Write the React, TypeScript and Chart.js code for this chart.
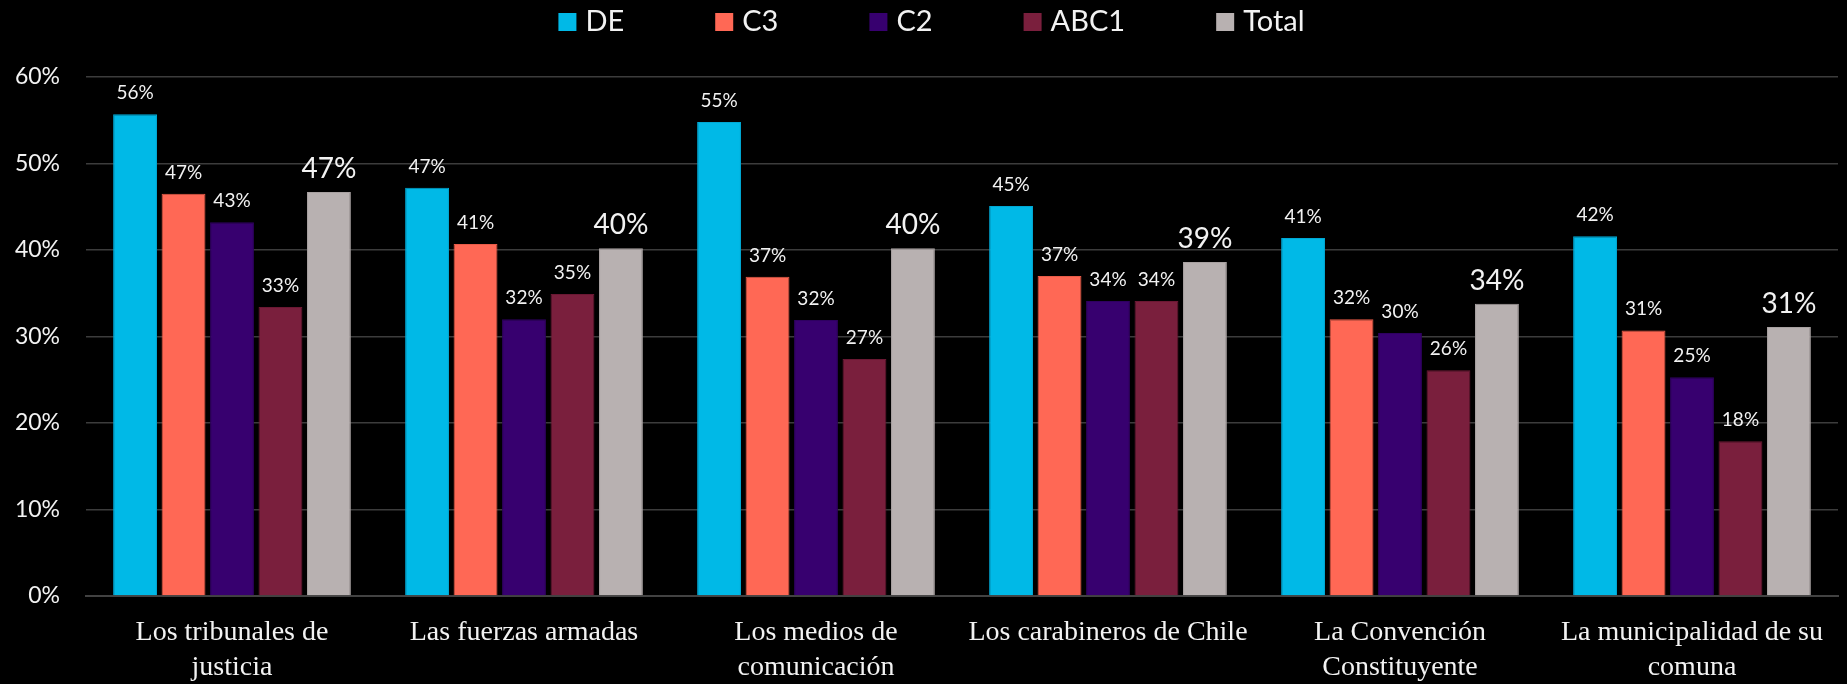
import React, { useEffect, useRef } from "react";
import { Chart, registerables } from "chart.js";
Chart.register(...registerables);

const categories: string[][] = [
  ["Los tribunales de", "justicia"],
  ["Las fuerzas armadas"],
  ["Los medios de", "comunicación"],
  ["Los carabineros de Chile"],
  ["La Convención", "Constituyente"],
  ["La municipalidad de su", "comuna"],
];
const seriesNames = ["DE", "C3", "C2", "ABC1", "Total"];
const deValues = [55.7, 47.2, 54.8, 45.1, 41.4, 41.6];
const c3Values = [46.5, 40.7, 36.9, 37.0, 32.0, 30.7];
const c2Values = [43.2, 32.0, 31.9, 34.1, 30.4, 25.3];
const abc1Values = [33.4, 34.9, 27.4, 34.1, 26.1, 17.9];
const totalValues = [46.7, 40.2, 40.2, 38.6, 33.8, 31.1];
const seriesColors = ["#00B9E7", "#FF6855", "#37006F", "#7A1F3D", "#B8B1B1"];
const seriesBorders = ["#00A8D4", "#E85B48", "#2E0060", "#6A1833", "#A8A1A1"];
const yTicks = [0, 10, 20, 30, 40, 50, 60];

const SANS = "Lato, 'Open Sans', sans-serif";
const SERIF = "'Liberation Serif', 'DejaVu Serif', serif";
const TEXT = "#F2F2F2";

const valueLabels = {
  id: "valueLabels",
  afterDatasetsDraw(chart: any) {
    const ctx = chart.ctx;
    ctx.save();
    ctx.fillStyle = TEXT;
    ctx.textAlign = "center";
    ctx.textBaseline = "alphabetic";
    chart.data.datasets.forEach((ds: any, di: number) => {
      const meta = chart.getDatasetMeta(di);
      const big = di === 4;
      ctx.font = `${big ? 28 : 19}px ${SANS}`;
      meta.data.forEach((el: any, i: number) => {
        const v = ds.data[i];
        ctx.fillText(Math.round(v) + "%", el.x, el.y - (big ? 14 : 15));
      });
    });
    ctx.restore();
  },
};

const customLegend = {
  id: "customLegend",
  afterDraw(chart: any) {
    const ctx = chart.ctx;
    ctx.save();
    ctx.font = `29px ${SANS}`;
    ctx.textBaseline = "middle";
    ctx.textAlign = "left";
    const box = 18;
    const gap = 9;
    const spacing = 91;
    const items = chart.data.datasets.map((ds: any) => ({
      text: ds.label,
      color: ds.backgroundColor,
      w: box + gap + ctx.measureText(ds.label).width,
    }));
    const total = items.reduce((s: number, it: any) => s + it.w, 0) + spacing * (items.length - 1);
    let x = (chart.width - total) / 2 + 8;
    const cy = 22;
    items.forEach((it: any) => {
      ctx.fillStyle = it.color;
      ctx.fillRect(x, cy - box / 2, box, box);
      ctx.fillStyle = TEXT;
      ctx.fillText(it.text, x + box + gap, cy);
      x += it.w + spacing;
    });
    ctx.restore();
  },
};

export default function App() {
  const ref = useRef<HTMLCanvasElement | null>(null);
  useEffect(() => {
    if (!ref.current) return;
    const seriesValues = [deValues, c3Values, c2Values, abc1Values, totalValues];
    const chart = new Chart(ref.current, {
      type: "bar",
      data: {
        labels: categories,
        datasets: seriesNames.map((name, i) => ({
          label: name,
          data: seriesValues[i],
          backgroundColor: seriesColors[i],
          borderColor: seriesBorders[i],
          borderWidth: 1,
          categoryPercentage: 0.83,
          barPercentage: 0.905,
        })),
      },
      options: {
        animation: false,
        responsive: false,
        maintainAspectRatio: false,
        layout: { padding: { top: 77, right: 9, left: 0, bottom: 0 } },
        plugins: {
          legend: { display: false },
          tooltip: { enabled: false },
        },
        scales: {
          x: {
            grid: { display: false, drawTicks: false },
            border: { display: true, color: "#424242", width: 2 },
            ticks: {
              color: TEXT,
              font: { family: SERIF, size: 28, lineHeight: 1.25 },
              padding: 19,
              maxRotation: 0,
              autoSkip: false,
            },
            afterFit: (s: any) => {
              s.height = 88;
            },
          },
          y: {
            min: 0,
            max: 60,
            afterBuildTicks: (s: any) => {
              s.ticks = yTicks.map((v) => ({ value: v }));
            },
            grid: { color: "#3C3C3C", lineWidth: 1.5, drawTicks: false },
            border: { display: false },
            ticks: {
              color: TEXT,
              font: { family: SANS, size: 23 },
              padding: 26,
              callback: (v: any) => v + "%",
            },
            afterFit: (s: any) => {
              s.width = 86;
            },
          },
        },
      },
      plugins: [valueLabels, customLegend],
    });
    return () => chart.destroy();
  }, []);
  return (
    <div
      style={{
        position: "absolute",
        left: 0,
        top: 0,
        width: 1847,
        height: 684,
        background: "#000",
      }}
    >
      <canvas ref={ref} width={1847} height={684} style={{ display: "block" }} />
    </div>
  );
}
